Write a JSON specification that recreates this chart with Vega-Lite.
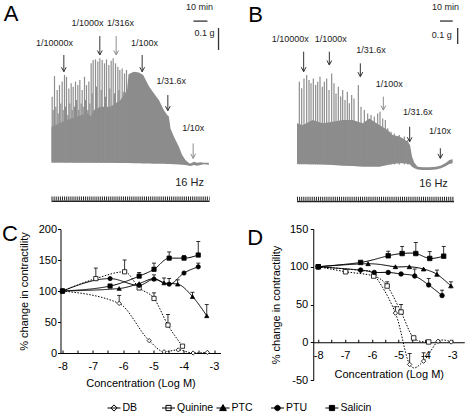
{
  "$schema": "https://vega.github.io/schema/vega-lite/v6.json",
  "padding": {"left": 1.5, "top": 0, "right": 0, "bottom": 0},
  "background": "white",
  "spacing": 17,
  "config": {
    "view": {"stroke": null},
    "font": "Liberation Sans",
    "axis": {"labelFont": "Liberation Sans", "titleFont": "Liberation Sans", "labelColor": "black", "titleColor": "black", "domainColor": "black", "tickColor": "black", "grid": false, "titleFontWeight": "normal", "labelFontSize": 11, "titleFontSize": 11}
  },
  "resolve": {"scale": {"shape": "independent", "fill": "independent", "strokeDash": "independent"}},
  "datasets": {
    "A_band": [
      {"t":0,"lo":-0.006,"hi":0.156},{"t":5.2,"lo":-0.006,"hi":0.171},{"t":11.2,"lo":-0.006,"hi":0.186},{"t":18.3,"lo":-0.007,"hi":0.202},
      {"t":25.5,"lo":-0.007,"hi":0.217},{"t":28.3,"lo":-0.007,"hi":0.202},{"t":30.2,"lo":-0.008,"hi":0.232},{"t":35.0,"lo":-0.008,"hi":0.247},
      {"t":42.1,"lo":-0.008,"hi":0.247},{"t":49.3,"lo":-0.009,"hi":0.277},{"t":54.0,"lo":-0.009,"hi":0.323},{"t":55.0,"lo":-0.009,"hi":0.395},
      {"t":58.8,"lo":-0.010,"hi":0.406},{"t":62.4,"lo":-0.010,"hi":0.402},{"t":65.5,"lo":-0.011,"hi":0.391},{"t":66.4,"lo":-0.011,"hi":0.380},
      {"t":69.5,"lo":-0.011,"hi":0.341},{"t":73.1,"lo":-0.012,"hi":0.308},{"t":76.7,"lo":-0.012,"hi":0.277},{"t":80.2,"lo":-0.013,"hi":0.232},
      {"t":82.6,"lo":-0.014,"hi":0.209},{"t":83.8,"lo":-0.014,"hi":0.202},{"t":85.0,"lo":-0.014,"hi":0.148},{"t":86.9,"lo":-0.015,"hi":0.118},
      {"t":88.6,"lo":-0.015,"hi":0.095},{"t":91.0,"lo":-0.016,"hi":0.065},{"t":93.3,"lo":-0.017,"hi":0.027},{"t":95.7,"lo":-0.018,"hi":0.005},
      {"t":98.1,"lo":-0.022,"hi":-0.009},{"t":99.3,"lo":-0.023,"hi":-0.011},{"t":101.7,"lo":-0.018,"hi":-0.003},{"t":104.0,"lo":-0.021,"hi":-0.008},
      {"t":106.4,"lo":-0.018,"hi":-0.006},{"t":108.8,"lo":-0.015,"hi":-0.008},{"t":112.4,"lo":-0.017,"hi":-0.008}
    ],
    "A_spikes": [
      {"t":0.48,"lo":-0.008,"g":0.292},{"t":2.14,"lo":-0.008,"g":0.386},{"t":4.05,"lo":-0.008,"g":0.323},{"t":5.71,"lo":-0.008,"g":0.345},{"t":7.62,"lo":-0.008,"g":0.361},{"t":9.29,"lo":-0.008,"g":0.391},
      {"t":10.71,"lo":-0.008,"g":0.383},{"t":12.38,"lo":-0.008,"g":0.330},{"t":14.05,"lo":-0.008,"g":0.353},{"t":15.48,"lo":-0.008,"g":0.338},{"t":17.14,"lo":-0.008,"g":0.361},{"t":18.81,"lo":-0.008,"g":0.345},
      {"t":20.24,"lo":-0.008,"g":0.368},{"t":21.9,"lo":-0.008,"g":0.323},{"t":23.57,"lo":-0.008,"g":0.383},{"t":25.0,"lo":-0.008,"g":0.345},{"t":26.67,"lo":-0.008,"g":0.361},{"t":28.33,"lo":-0.008,"g":0.444},
      {"t":29.76,"lo":-0.008,"g":0.459},{"t":31.43,"lo":-0.008,"g":0.462},{"t":33.1,"lo":-0.008,"g":0.452},{"t":34.52,"lo":-0.008,"g":0.467},{"t":36.19,"lo":-0.008,"g":0.459},{"t":37.86,"lo":-0.008,"g":0.444},
      {"t":39.29,"lo":-0.008,"g":0.462},{"t":40.95,"lo":-0.008,"g":0.436},{"t":42.62,"lo":-0.008,"g":0.456},{"t":44.05,"lo":-0.008,"g":0.467},{"t":45.71,"lo":-0.008,"g":0.444},{"t":47.38,"lo":-0.008,"g":0.429},
      {"t":48.81,"lo":-0.008,"g":0.414},{"t":50.48,"lo":-0.008,"g":0.421},{"t":52.14,"lo":-0.008,"g":0.398},{"t":53.57,"lo":-0.008,"g":0.414},
      {"t":1.19,"lo":-0.008,"g":0.232},{"t":3.1,"lo":-0.008,"g":0.247},{"t":4.76,"lo":-0.008,"g":0.217},{"t":6.67,"lo":-0.008,"g":0.262},{"t":8.33,"lo":-0.008,"g":0.232},{"t":10.0,"lo":-0.008,"g":0.247},
      {"t":11.67,"lo":-0.008,"g":0.209},{"t":13.1,"lo":-0.008,"g":0.262},{"t":14.76,"lo":-0.008,"g":0.232},{"t":16.43,"lo":-0.008,"g":0.247},{"t":17.86,"lo":-0.008,"g":0.277},{"t":19.52,"lo":-0.008,"g":0.232},
      {"t":21.19,"lo":-0.008,"g":0.262},{"t":22.62,"lo":-0.008,"g":0.247},{"t":24.29,"lo":-0.008,"g":0.277},{"t":25.95,"lo":-0.008,"g":0.232},{"t":27.38,"lo":-0.008,"g":0.262},{"t":29.05,"lo":-0.008,"g":0.308},
      {"t":32.14,"lo":-0.008,"g":0.338},{"t":35.48,"lo":-0.008,"g":0.323},{"t":38.57,"lo":-0.008,"g":0.292},{"t":41.67,"lo":-0.008,"g":0.330},{"t":45.0,"lo":-0.008,"g":0.308},{"t":48.1,"lo":-0.008,"g":0.323},
      {"t":51.19,"lo":-0.008,"g":0.315}
    ],
    "A_arrows": [
      {"t":8.81,"tail":0.482,"tip":0.406,"label":"1/10000x","lt":2.14,"lg":0.535,"gray":false},
      {"t":34.52,"tail":0.568,"tip":0.482,"label":"1/1000x","lt":25.7,"lg":0.626,"gray":false},
      {"t":46.19,"tail":0.568,"tip":0.482,"label":"1/316x","lt":49.3,"lg":0.626,"gray":true},
      {"t":64.76,"tail":0.482,"tip":0.406,"label":"1/100x","lt":66.43,"lg":0.538,"gray":false},
      {"t":83.1,"tail":0.3,"tip":0.229,"label":"1/31.6x","lt":85.48,"lg":0.364,"gray":false},
      {"t":101.19,"tail":0.08,"tip":0.012,"label":"1/10x","lt":101.19,"lg":0.148,"gray":true}
    ],
    "A_notes": [
      {"t":-28.9,"g":0.668,"txt":"A","kind":"letter"},{"t":105.7,"g":0.7,"txt":"10 min","kind":"small"},
      {"t":109.3,"g":0.582,"txt":"0.1 g","kind":"small"},{"t":98.6,"g":-0.1,"txt":"16 Hz","kind":"hz"}
    ],
    "A_segs": [
      {"t":101.4,"t2":111.4,"g":0.636,"g2":0.636,"part":"scale"},{"t":119.3,"t2":119.3,"g":0.6045,"g2":0.5045,"part":"scale"},
      {"t":0,"t2":112.9,"g":-0.1705,"g2":-0.1705,"part":"stim"},{"t":0,"t2":112.9,"g":-0.183,"g2":-0.183,"part":"base"}
    ],
    "B_band": [
      {"t":0,"lo":-0.006,"hi":0.248},{"t":4.36,"lo":-0.006,"hi":0.2375},{"t":12.05,"lo":-0.008,"hi":0.269},{"t":19.74,"lo":-0.010,"hi":0.248},
      {"t":27.44,"lo":-0.0125,"hi":0.258},{"t":35.13,"lo":-0.017,"hi":0.269},{"t":42.82,"lo":-0.019,"hi":0.269},{"t":50.51,"lo":-0.023,"hi":0.248},
      {"t":55.64,"lo":-0.023,"hi":0.279},{"t":63.33,"lo":-0.023,"hi":0.2375},{"t":69.74,"lo":-0.0125,"hi":0.206},{"t":73.59,"lo":-0.006,"hi":0.175},
      {"t":78.72,"lo":-0.002,"hi":0.165},{"t":82.56,"lo":-0.002,"hi":0.148},{"t":85.13,"lo":-0.006,"hi":0.133},{"t":86.92,"lo":-0.010,"hi":0.1125},
      {"t":88.46,"lo":-0.023,"hi":0.040},{"t":90.26,"lo":-0.033,"hi":0.002},{"t":92.82,"lo":-0.040,"hi":-0.023},{"t":96.67,"lo":-0.044,"hi":-0.027},
      {"t":101.79,"lo":-0.044,"hi":-0.027},{"t":106.92,"lo":-0.040,"hi":-0.023},{"t":110.77,"lo":-0.033,"hi":-0.015},{"t":114.62,"lo":-0.019,"hi":0.002},
      {"t":117.18,"lo":-0.006,"hi":0.019},{"t":119.74,"lo":-0.002,"hi":0.023}
    ],
    "B_spikes": [
      {"t":1.79,"lo":-0.01,"g":0.508},{"t":3.59,"lo":-0.01,"g":0.467},{"t":5.38,"lo":-0.01,"g":0.529},{"t":7.44,"lo":-0.01,"g":0.550},{"t":9.23,"lo":-0.01,"g":0.519},{"t":10.77,"lo":-0.01,"g":0.498},
      {"t":12.56,"lo":-0.01,"g":0.529},{"t":14.36,"lo":-0.01,"g":0.4875},{"t":15.9,"lo":-0.01,"g":0.508},{"t":17.69,"lo":-0.01,"g":0.540},{"t":19.49,"lo":-0.01,"g":0.477},{"t":21.03,"lo":-0.01,"g":0.508},
      {"t":22.82,"lo":-0.01,"g":0.529},{"t":24.62,"lo":-0.01,"g":0.456},{"t":26.67,"lo":-0.01,"g":0.560},{"t":28.46,"lo":-0.01,"g":0.498},{"t":30.0,"lo":-0.01,"g":0.435},{"t":31.79,"lo":-0.01,"g":0.477},
      {"t":33.59,"lo":-0.01,"g":0.415},{"t":35.13,"lo":-0.01,"g":0.456},{"t":36.92,"lo":-0.01,"g":0.394},{"t":38.72,"lo":-0.01,"g":0.446},{"t":40.26,"lo":-0.01,"g":0.373},{"t":42.05,"lo":-0.01,"g":0.425},
      {"t":43.85,"lo":-0.01,"g":0.404},{"t":47.18,"lo":-0.01,"g":0.4875},{"t":49.23,"lo":-0.01,"g":0.352},{"t":51.79,"lo":-0.01,"g":0.331},{"t":54.36,"lo":-0.01,"g":0.310},{"t":56.92,"lo":-0.01,"g":0.300},
      {"t":59.49,"lo":-0.01,"g":0.290},{"t":62.05,"lo":-0.01,"g":0.310},{"t":63.85,"lo":-0.01,"g":0.321},{"t":65.9,"lo":-0.01,"g":0.279},{"t":67.95,"lo":-0.01,"g":0.269},{"t":69.74,"lo":-0.01,"g":0.217},
      {"t":72.31,"lo":-0.01,"g":0.196},{"t":74.87,"lo":-0.01,"g":0.185},{"t":78.72,"lo":-0.01,"g":0.175},{"t":82.56,"lo":-0.01,"g":0.165},{"t":85.13,"lo":-0.01,"g":0.144}
    ],
    "B_arrows": [
      {"t":5.13,"tail":0.696,"tip":0.571,"label":"1/10000x","lt":-5.13,"lg":0.773,"gray":false},
      {"t":24.87,"tail":0.696,"tip":0.6125,"label":"1/1000x","lt":25.9,"lg":0.773,"gray":false},
      {"t":48.72,"tail":0.623,"tip":0.540,"label":"1/31.6x","lt":56.92,"lg":0.706,"gray":false},
      {"t":66.41,"tail":0.415,"tip":0.331,"label":"1/100x","lt":71.03,"lg":0.492,"gray":true},
      {"t":86.67,"tail":0.227,"tip":0.133,"label":"1/31.6x","lt":92.82,"lg":0.321,"gray":false},
      {"t":110.26,"tail":0.092,"tip":0.029,"label":"1/10x","lt":110.0,"lg":0.2,"gray":false}
    ],
    "B_notes": [
      {"t":-31.8,"g":0.925,"txt":"B","kind":"letter"},{"t":114.2,"g":0.975,"txt":"10 min","kind":"small"},
      {"t":111.4,"g":0.8,"txt":"0.1 g","kind":"small"},{"t":105,"g":-0.131,"txt":"16 Hz","kind":"hz"}
    ],
    "B_segs": [
      {"t":110,"t2":119.8,"g":0.8875,"g2":0.8875,"part":"scale"},{"t":123.6,"t2":123.6,"g":0.844,"g2":0.744,"part":"scale"},
      {"t":0,"t2":120.8,"g":-0.224,"g2":-0.224,"part":"stim"},{"t":0,"t2":120.8,"g":-0.241,"g2":-0.241,"part":"base"}
    ],
    "C": [
      {"drug":"DB","conc":-8,"pct":100,"hi":null},{"drug":"DB","conc":-6.13,"pct":80,"hi":93},{"drug":"DB","conc":-5.14,"pct":20,"hi":null},
      {"drug":"DB","conc":-4.65,"pct":2,"hi":null},{"drug":"DB","conc":-4.18,"pct":5,"hi":null},{"drug":"DB","conc":-3.69,"pct":0,"hi":null},
      {"drug":"DB","conc":-3.22,"pct":1,"hi":null},
      {"drug":"Quinine","conc":-8,"pct":100,"hi":null},{"drug":"Quinine","conc":-6.9,"pct":120,"hi":137},{"drug":"Quinine","conc":-5.95,"pct":131,"hi":150},
      {"drug":"Quinine","conc":-5.47,"pct":105,"hi":null},{"drug":"Quinine","conc":-4.98,"pct":88,"hi":97},{"drug":"Quinine","conc":-4.52,"pct":45,"hi":62},
      {"drug":"Quinine","conc":-4.04,"pct":11,"hi":null},
      {"drug":"PTC","conc":-8,"pct":100,"hi":null},{"drug":"PTC","conc":-6.13,"pct":104,"hi":null},{"drug":"PTC","conc":-5.47,"pct":112,"hi":null},
      {"drug":"PTC","conc":-4.98,"pct":120,"hi":null},{"drug":"PTC","conc":-4.65,"pct":113,"hi":121},{"drug":"PTC","conc":-4.2,"pct":111,"hi":118},
      {"drug":"PTC","conc":-3.71,"pct":91,"hi":98},{"drug":"PTC","conc":-3.24,"pct":60,"hi":78},
      {"drug":"PTU","conc":-8,"pct":100,"hi":null},{"drug":"PTU","conc":-6.43,"pct":120,"hi":null},{"drug":"PTU","conc":-5.47,"pct":109,"hi":null},
      {"drug":"PTU","conc":-4.98,"pct":119,"hi":126},{"drug":"PTU","conc":-4.48,"pct":111,"hi":120},{"drug":"PTU","conc":-3.99,"pct":129,"hi":null},
      {"drug":"PTU","conc":-3.52,"pct":139,"hi":145},
      {"drug":"Salicin","conc":-8,"pct":100,"hi":null},{"drug":"Salicin","conc":-6.43,"pct":108,"hi":null},{"drug":"Salicin","conc":-5.47,"pct":124,"hi":130},
      {"drug":"Salicin","conc":-4.98,"pct":135,"hi":145},{"drug":"Salicin","conc":-4.48,"pct":153,"hi":163},{"drug":"Salicin","conc":-3.99,"pct":153,"hi":157},
      {"drug":"Salicin","conc":-3.52,"pct":158,"hi":180}
    ],
    "D": [
      {"drug":"DB","conc":-8,"pct":100,"hi":null},{"drug":"DB","conc":-6.42,"pct":95,"hi":null},{"drug":"DB","conc":-5.91,"pct":89,"hi":null},
      {"drug":"DB","conc":-5.12,"pct":38.6,"hi":47},{"drug":"DB","conc":-4.59,"pct":-29.4,"hi":-15},{"drug":"DB","conc":-4.07,"pct":-25,"hi":-14},
      {"drug":"DB","conc":-3.53,"pct":1.3,"hi":null},{"drug":"DB","conc":-3.04,"pct":0.4,"hi":null},
      {"drug":"Quinine","conc":-8,"pct":100,"hi":null},{"drug":"Quinine","conc":-6.98,"pct":93.4,"hi":null},{"drug":"Quinine","conc":-5.93,"pct":87.7,"hi":null},
      {"drug":"Quinine","conc":-5.43,"pct":74.5,"hi":80},{"drug":"Quinine","conc":-4.91,"pct":40,"hi":50},{"drug":"Quinine","conc":-4.44,"pct":5.7,"hi":null},
      {"drug":"Quinine","conc":-3.88,"pct":0.4,"hi":null},
      {"drug":"PTC","conc":-8,"pct":100,"hi":null},{"drug":"PTC","conc":-6.14,"pct":104,"hi":null},{"drug":"PTC","conc":-5.12,"pct":100,"hi":null},
      {"drug":"PTC","conc":-4.6,"pct":100,"hi":null},{"drug":"PTC","conc":-4.07,"pct":97,"hi":null},{"drug":"PTC","conc":-3.57,"pct":90,"hi":95.6},
      {"drug":"PTC","conc":-3.05,"pct":74.6,"hi":80},
      {"drug":"PTU","conc":-8,"pct":100,"hi":null},{"drug":"PTU","conc":-6.42,"pct":95.6,"hi":null},{"drug":"PTU","conc":-5.91,"pct":92.5,"hi":null},
      {"drug":"PTU","conc":-5.39,"pct":92.5,"hi":null},{"drug":"PTU","conc":-4.91,"pct":90.4,"hi":null},{"drug":"PTU","conc":-4.4,"pct":87.7,"hi":97},
      {"drug":"PTU","conc":-3.88,"pct":75.9,"hi":84.6},{"drug":"PTU","conc":-3.38,"pct":61.8,"hi":69},
      {"drug":"Salicin","conc":-8,"pct":100,"hi":null},{"drug":"Salicin","conc":-6.42,"pct":105.7,"hi":null},{"drug":"Salicin","conc":-5.39,"pct":114.5,"hi":120.6},
      {"drug":"Salicin","conc":-4.87,"pct":117.5,"hi":127},{"drug":"Salicin","conc":-4.36,"pct":117.5,"hi":132},{"drug":"Salicin","conc":-3.84,"pct":111,"hi":120},
      {"drug":"Salicin","conc":-3.32,"pct":114,"hi":127}
    ],
    "drugs": [{"drug":"DB"},{"drug":"Quinine"},{"drug":"PTC"},{"drug":"PTU"},{"drug":"Salicin"}]
  },
  "vconcat": [
    {
      "spacing": 27.5,
      "hconcat": [
        {
          "width": 160, "height": 205,
          "encoding": {
            "x": {"field": "t", "type": "quantitative", "scale": {"domain": [6.43, 120.71], "nice": false, "zero": false}, "axis": null},
            "y": {"field": "g", "type": "quantitative", "scale": {"domain": [-0.2, 0.732], "nice": false, "zero": false}, "axis": null}
          },
          "layer": [
            {"data": {"name": "A_band"}, "mark": {"type": "area", "color": "#8c8c8c", "opacity": 1}, "encoding": {"y": {"field": "lo", "type": "quantitative"}, "y2": {"field": "hi"}}},
            {"data": {"name": "A_spikes"}, "mark": {"type": "rule", "color": "#8e8e8e", "strokeWidth": 1.2}, "encoding": {"y": {"field": "lo", "type": "quantitative"}, "y2": {"field": "g"}}},
            {"data": {"name": "A_arrows"}, "mark": {"type": "rule", "strokeWidth": 1}, "encoding": {"y": {"field": "tail", "type": "quantitative"}, "y2": {"field": "tip"}, "color": {"condition": {"test": "datum.gray", "value": "#8c8c8c"}, "value": "#333333"}}},
            {"data": {"name": "A_arrows"}, "mark": {"type": "point", "shape": "M-0.8,-1.5L0,0L0.8,-1.5", "filled": false, "size": 36, "strokeWidth": 1, "opacity": 1}, "encoding": {"y": {"field": "tip", "type": "quantitative"}, "color": {"condition": {"test": "datum.gray", "value": "#8c8c8c"}, "value": "#333333"}}},
            {"data": {"name": "A_arrows"}, "mark": {"type": "text", "fontSize": 9, "color": "#222222", "align": "center", "baseline": "middle"}, "encoding": {"x": {"field": "lt", "type": "quantitative"}, "y": {"field": "lg", "type": "quantitative"}, "text": {"field": "label"}}},
            {"data": {"name": "A_notes"}, "transform": [{"filter": "datum.kind == 'letter'"}], "mark": {"type": "text", "fontSize": 22, "color": "black", "align": "center", "baseline": "middle"}, "encoding": {"text": {"field": "txt"}}},
            {"data": {"name": "A_notes"}, "transform": [{"filter": "datum.kind == 'small'"}], "mark": {"type": "text", "fontSize": 9, "color": "#222222", "align": "center", "baseline": "middle"}, "encoding": {"text": {"field": "txt"}}},
            {"data": {"name": "A_notes"}, "transform": [{"filter": "datum.kind == 'hz'"}], "mark": {"type": "text", "fontSize": 11, "color": "#222222", "align": "center", "baseline": "middle"}, "encoding": {"text": {"field": "txt"}}},
            {"data": {"name": "A_segs"}, "transform": [{"filter": "datum.part == 'scale'"}], "mark": {"type": "rule", "color": "#333333", "strokeWidth": 1.3}, "encoding": {"x2": {"field": "t2"}, "y2": {"field": "g2"}}},
            {"data": {"name": "A_segs"}, "transform": [{"filter": "datum.part == 'stim'"}], "mark": {"type": "rule", "color": "#222222", "strokeWidth": 4, "strokeDash": [1, 1.1]}, "encoding": {"x2": {"field": "t2"}, "y2": {"field": "g2"}}},
            {"data": {"name": "A_segs"}, "transform": [{"filter": "datum.part == 'base'"}], "mark": {"type": "rule", "color": "#222222", "strokeWidth": 1.5}, "encoding": {"x2": {"field": "t2"}, "y2": {"field": "g2"}}}
          ]
        },
        {
          "width": 163, "height": 205,
          "encoding": {
            "x": {"field": "t", "type": "quantitative", "scale": {"domain": [0, 125.38], "nice": false, "zero": false}, "axis": null},
            "y": {"field": "g", "type": "quantitative", "scale": {"domain": [-0.2625, 1.019], "nice": false, "zero": false}, "axis": null}
          },
          "layer": [
            {"data": {"name": "B_band"}, "mark": {"type": "area", "color": "#8c8c8c", "opacity": 1}, "encoding": {"y": {"field": "lo", "type": "quantitative"}, "y2": {"field": "hi"}}},
            {"data": {"name": "B_spikes"}, "mark": {"type": "rule", "color": "#8e8e8e", "strokeWidth": 1.2}, "encoding": {"y": {"field": "lo", "type": "quantitative"}, "y2": {"field": "g"}}},
            {"data": {"name": "B_arrows"}, "mark": {"type": "rule", "strokeWidth": 1}, "encoding": {"y": {"field": "tail", "type": "quantitative"}, "y2": {"field": "tip"}, "color": {"condition": {"test": "datum.gray", "value": "#8c8c8c"}, "value": "#333333"}}},
            {"data": {"name": "B_arrows"}, "mark": {"type": "point", "shape": "M-0.8,-1.5L0,0L0.8,-1.5", "filled": false, "size": 36, "strokeWidth": 1, "opacity": 1}, "encoding": {"y": {"field": "tip", "type": "quantitative"}, "color": {"condition": {"test": "datum.gray", "value": "#8c8c8c"}, "value": "#333333"}}},
            {"data": {"name": "B_arrows"}, "mark": {"type": "text", "fontSize": 9, "color": "#222222", "align": "center", "baseline": "middle"}, "encoding": {"x": {"field": "lt", "type": "quantitative"}, "y": {"field": "lg", "type": "quantitative"}, "text": {"field": "label"}}},
            {"data": {"name": "B_notes"}, "transform": [{"filter": "datum.kind == 'letter'"}], "mark": {"type": "text", "fontSize": 22, "color": "black", "align": "center", "baseline": "middle"}, "encoding": {"text": {"field": "txt"}}},
            {"data": {"name": "B_notes"}, "transform": [{"filter": "datum.kind == 'small'"}], "mark": {"type": "text", "fontSize": 9, "color": "#222222", "align": "center", "baseline": "middle"}, "encoding": {"text": {"field": "txt"}}},
            {"data": {"name": "B_notes"}, "transform": [{"filter": "datum.kind == 'hz'"}], "mark": {"type": "text", "fontSize": 11, "color": "#222222", "align": "center", "baseline": "middle"}, "encoding": {"text": {"field": "txt"}}},
            {"data": {"name": "B_segs"}, "transform": [{"filter": "datum.part == 'scale'"}], "mark": {"type": "rule", "color": "#333333", "strokeWidth": 1.3}, "encoding": {"x2": {"field": "t2"}, "y2": {"field": "g2"}}},
            {"data": {"name": "B_segs"}, "transform": [{"filter": "datum.part == 'stim'"}], "mark": {"type": "rule", "color": "#222222", "strokeWidth": 4, "strokeDash": [1, 1.1]}, "encoding": {"x2": {"field": "t2"}, "y2": {"field": "g2"}}},
            {"data": {"name": "B_segs"}, "transform": [{"filter": "datum.part == 'base'"}], "mark": {"type": "rule", "color": "#222222", "strokeWidth": 1.5}, "encoding": {"x2": {"field": "t2"}, "y2": {"field": "g2"}}}
          ]
        }
      ]
    },
    {
      "spacing": 13,
      "resolve": {"scale": {"shape": "independent", "fill": "independent"}},
      "vconcat": [
        {
          "spacing": 26.75,
          "hconcat": [
            {
              "width": 160, "height": 124,
              "encoding": {
                "x": {"field": "conc", "type": "quantitative", "scale": {"domain": [-8.066, -2.786], "nice": false, "zero": false},
                      "axis": {"values": [-8,-7.5,-7,-6.5,-6,-5.5,-5,-4.5,-4,-3.5,-3], "labelExpr": "datum.value % 1 == 0 ? '' + datum.value : ''", "tickSize": -3, "labelPadding": 10, "labelFlush": false, "labelOverlap": false, "title": "Concentration (Log M)", "titlePadding": 6}},
                "y": {"field": "pct", "type": "quantitative", "scale": {"domain": [0, 200], "nice": false},
                      "axis": {"values": [0, 50, 100, 150, 200], "tickSize": 3, "labelPadding": 1, "title": "% change in contractility", "titlePadding": 9}}
              },
              "layer": [
                {"data": {"name": "C"}, "mark": {"type": "line", "interpolate": "monotone", "color": "black", "strokeWidth": 1},
                 "encoding": {"strokeDash": {"field": "drug", "type": "nominal", "scale": {"domain": ["DB","Quinine","PTC","PTU","Salicin"], "range": [[1.5,1.5],[1.5,1.5],[1,0],[1,0],[1,0]]}, "legend": null}}},
                {"data": {"name": "C"}, "transform": [{"filter": "datum.hi != null"}], "mark": {"type": "rule", "color": "black", "strokeWidth": 0.8}, "encoding": {"y2": {"field": "hi"}}},
                {"data": {"name": "C"}, "transform": [{"filter": "datum.hi != null"}], "mark": {"type": "tick", "orient": "horizontal", "color": "black", "size": 4, "thickness": 0.8, "opacity": 1}, "encoding": {"y": {"field": "hi", "type": "quantitative"}}},
                {"data": {"name": "C"}, "mark": {"type": "point", "filled": true, "stroke": "black", "strokeWidth": 0.8, "size": 18, "opacity": 1},
                 "encoding": {
                   "shape": {"field": "drug", "type": "nominal", "scale": {"domain": ["DB","Quinine","PTC","PTU","Salicin"], "range": ["diamond","square","triangle-up","circle","square"]}, "legend": null},
                   "fill": {"field": "drug", "type": "nominal", "scale": {"domain": ["DB","Quinine","PTC","PTU","Salicin"], "range": ["white","white","black","black","black"]}, "legend": null}}},
                {"data": {"values": [{"conc": -9.733, "pct": 192, "lab": "C"}]}, "mark": {"type": "text", "fontSize": 22, "align": "center", "baseline": "middle", "color": "black"}, "encoding": {"text": {"field": "lab"}}}
              ]
            },
            {
              "width": 151, "height": 151,
              "encoding": {
                "x": {"field": "conc", "type": "quantitative", "scale": {"domain": [-8.187, -2.552], "nice": false, "zero": false},
                      "axis": {"values": [-8,-7.5,-7,-6.5,-6,-5.5,-5,-4.5,-4,-3.5,-3], "labelExpr": "datum.value % 1 == 0 ? '' + datum.value : ''", "tickSize": -3, "offset": -37.75, "labelPadding": 10, "labelFlush": false, "labelOverlap": false, "title": "Concentration (Log M)", "titlePadding": 8}},
                "y": {"field": "pct", "type": "quantitative", "scale": {"domain": [-50, 150], "nice": false},
                      "axis": {"values": [-50, 0, 50, 100, 150], "labelExpr": "'' + datum.value", "tickSize": 3, "labelPadding": 2.5, "title": "% change in contractility", "titlePadding": 8}}
              },
              "layer": [
                {"data": {"name": "D"}, "mark": {"type": "line", "interpolate": "cardinal", "color": "black", "strokeWidth": 1},
                 "encoding": {"strokeDash": {"field": "drug", "type": "nominal", "scale": {"domain": ["DB","Quinine","PTC","PTU","Salicin"], "range": [[1.5,1.5],[1.5,1.5],[1,0],[1,0],[1,0]]}, "legend": null}}},
                {"data": {"name": "D"}, "transform": [{"filter": "datum.hi != null"}], "mark": {"type": "rule", "color": "black", "strokeWidth": 0.8}, "encoding": {"y2": {"field": "hi"}}},
                {"data": {"name": "D"}, "transform": [{"filter": "datum.hi != null"}], "mark": {"type": "tick", "orient": "horizontal", "color": "black", "size": 4, "thickness": 0.8, "opacity": 1}, "encoding": {"y": {"field": "hi", "type": "quantitative"}}},
                {"data": {"name": "D"}, "mark": {"type": "point", "filled": true, "stroke": "black", "strokeWidth": 0.8, "size": 20, "opacity": 1},
                 "encoding": {
                   "shape": {"field": "drug", "type": "nominal", "scale": {"domain": ["DB","Quinine","PTC","PTU","Salicin"], "range": ["diamond","square","triangle-up","circle","square"]}, "legend": null},
                   "fill": {"field": "drug", "type": "nominal", "scale": {"domain": ["DB","Quinine","PTC","PTU","Salicin"], "range": ["white","white","black","black","black"]}, "legend": null}}},
                {"data": {"values": [{"conc": -10.35, "pct": 138.7, "lab": "D"}]}, "mark": {"type": "text", "fontSize": 22, "align": "center", "baseline": "middle", "color": "black"}, "encoding": {"text": {"field": "lab"}}}
              ]
            }
          ]
        },
        {
          "width": 325, "height": 14,
          "data": {"name": "drugs"},
          "encoding": {
            "x": {"field": "drug", "type": "nominal", "sort": null, "scale": {"type": "point", "domain": ["DB","Quinine","PTC","PTU","Salicin"], "padding": 0.982}, "axis": null}
          },
          "layer": [
            {"mark": {"type": "point", "filled": true, "stroke": "black", "strokeWidth": 1, "size": 169, "opacity": 1},
             "encoding": {
               "shape": {"field": "drug", "type": "nominal",
                 "scale": {"domain": ["DB","Quinine","PTC","PTU","Salicin"],
                           "range": ["M-1,0H1M0,-0.48L0.48,0L0,0.48L-0.48,0Z", "M-1,0H1M-0.4,-0.4H0.4V0.4H-0.4Z", "M-1,0H1M0,-0.52L0.52,0.4L-0.52,0.4Z", "M-1,0H1M0.42,0A0.42,0.42,0,1,1,-0.42,0A0.42,0.42,0,1,1,0.42,0Z", "M-1,0H1M-0.4,-0.4H0.4V0.4H-0.4Z"]},
                 "legend": null},
               "fill": {"field": "drug", "type": "nominal", "scale": {"domain": ["DB","Quinine","PTC","PTU","Salicin"], "range": ["white","white","black","black","black"]}, "legend": null}}},
            {"mark": {"type": "text", "align": "left", "baseline": "middle", "dx": 8.5, "fontSize": 10.5, "color": "black"}, "encoding": {"text": {"field": "drug"}}}
          ]
        }
      ]
    }
  ]
}
